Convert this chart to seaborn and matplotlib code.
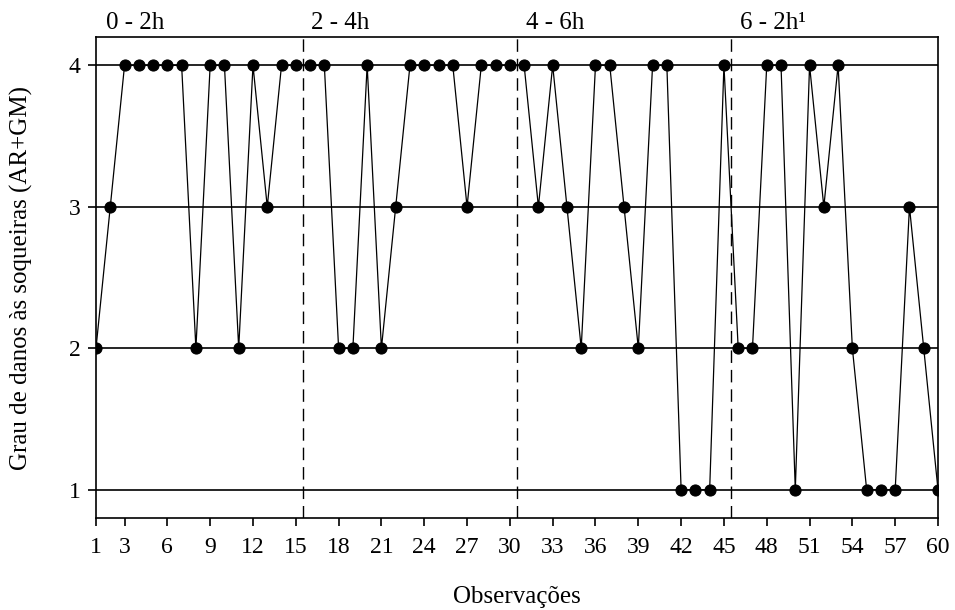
import numpy as np
import pandas as pd
import matplotlib
matplotlib.use("Agg")
import matplotlib.pyplot as plt
import seaborn as sns

# Data
observacoes = list(range(1, 61))
grau = [2, 3, 4, 4, 4, 4, 4, 2, 4, 4,
        2, 4, 3, 4, 4, 4, 4, 2, 2, 4,
        2, 3, 4, 4, 4, 4, 3, 4, 4, 4,
        4, 3, 4, 3, 2, 4, 4, 3, 2, 4,
        4, 1, 1, 1, 4, 2, 2, 4, 4, 1,
        4, 3, 4, 2, 1, 1, 1, 3, 2, 1]
x_ticks = [1, 3, 6, 9, 12, 15, 18, 21, 24, 27, 30, 33, 36, 39, 42, 45, 48, 51, 54, 57, 60]
y_ticks = [1, 2, 3, 4]
periodos = ["0 - 2h", "2 - 4h", "4 - 6h", "6 - 2h\u00b9"]
periodo_inicio = [1.7, 16.1, 31.1, 46.1]
divisores = [15.5, 30.5, 45.5]

df = pd.DataFrame({"Observações": observacoes, "Grau": grau})

sns.set_theme(style="ticks")
plt.rcParams["font.family"] = ["Liberation Serif", "DejaVu Serif"]
plt.rcParams["text.color"] = "black"
plt.rcParams["axes.labelcolor"] = "black"
plt.rcParams["xtick.color"] = "black"
plt.rcParams["ytick.color"] = "black"

fig = plt.figure(figsize=(9.55, 6.1), dpi=100)
ax = fig.add_axes([96 / 955, 1 - 518 / 610, (938 - 96) / 955, (518 - 37) / 610])

for yv in y_ticks:
    ax.axhline(yv, color="black", lw=1.2, zorder=1)
for xv in divisores:
    ax.axvline(xv, color="black", lw=1.0, ls=(0, (9, 5)), zorder=1)

sns.lineplot(data=df, x="Observações", y="Grau", ax=ax, color="black",
             lw=0.9, marker="o", markersize=8, markeredgecolor="black",
             markerfacecolor="black", zorder=3)

ax.set_xlim(1, 60)
ax.set_ylim(0.8, 4.2)
ax.set_xticks(x_ticks)
ax.set_xticklabels([str(t) for t in x_ticks])
ax.set_yticks(y_ticks)
ax.set_yticklabels([str(t) for t in y_ticks])
ax.tick_params(axis="both", direction="out", length=6, width=1.2, labelsize=17)
ax.tick_params(axis="x", pad=8)
ax.tick_params(axis="y", pad=5)

for sp in ax.spines.values():
    sp.set_visible(True)
    sp.set_color("black")
    sp.set_linewidth(1.2)

ax.set_xlabel("Observações", fontsize=18, labelpad=20)
ax.set_ylabel("Grau de danos às soqueiras (AR+GM)", fontsize=18, labelpad=26)

for lab, x0 in zip(periodos, periodo_inicio):
    ax.text(x0, 4.22, lab, fontsize=18, ha="left", va="bottom")

fig.savefig("out.png", dpi=100, facecolor="white")
